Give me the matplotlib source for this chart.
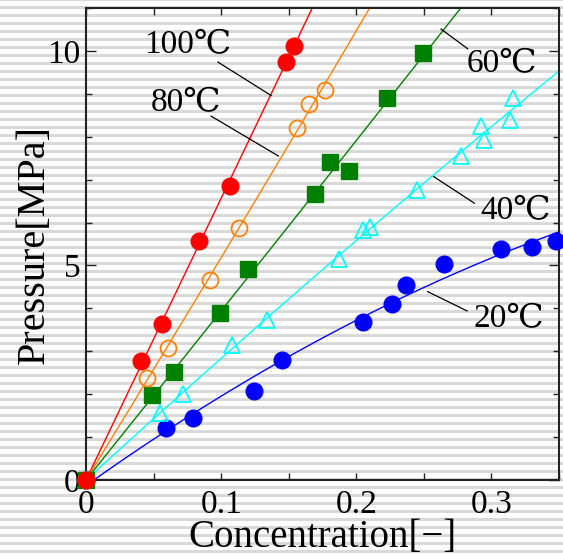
import numpy as np
import matplotlib
matplotlib.use("Agg")
import matplotlib.pyplot as plt
from matplotlib.patches import Rectangle
from matplotlib.ticker import MultipleLocator

plt.rcParams['font.family'] = ['Liberation Serif', 'DejaVu Serif']

# data: concentration [-] vs pressure [MPa]
x100 = [0.0, 0.0407, 0.0561, 0.0839, 0.1067, 0.1479, 0.1536]
y100 = [0.0, 2.78, 3.64, 5.58, 6.86, 9.73, 10.12]

x80 = [0.0, 0.0450, 0.0605, 0.0916, 0.1131, 0.1565, 0.1652, 0.1770]
y80 = [0.0, 2.38, 3.07, 4.67, 5.88, 8.21, 8.76, 9.09]

x60 = [0.0, 0.0491, 0.0654, 0.0995, 0.1202, 0.1696, 0.1807, 0.1943, 0.2227, 0.2491]
y60 = [0.0, 1.97, 2.52, 3.89, 4.92, 6.66, 7.40, 7.19, 8.90, 9.95]

x40 = [0.0, 0.0548, 0.0721, 0.1084, 0.1339, 0.1869, 0.2050, 0.2104,
       0.2450, 0.2778, 0.2943, 0.2926, 0.3141, 0.3161]
y40 = [0.0, 1.57, 2.00, 3.15, 3.72, 5.15, 5.83, 5.90,
       6.76, 7.54, 7.93, 8.25, 8.38, 8.90]

x20 = [0.0, 0.0593, 0.0795, 0.1244, 0.1450, 0.2050, 0.2264, 0.2368,
       0.2652, 0.3074, 0.3301, 0.3481]
y20 = [0.0, 1.22, 1.44, 2.07, 2.80, 3.68, 4.11, 4.55, 5.03, 5.38, 5.42, 5.58]

labels = ['100\u2103', '80\u2103', '60\u2103', '40\u2103', '20\u2103']


def fit_origin(x, y):
    # quadratic fit forced through the origin
    x = np.asarray(x)
    A = np.column_stack([x, x ** 2])
    a, b = np.linalg.lstsq(A, np.asarray(y), rcond=None)[0]
    return lambda t: a * t + b * t ** 2


fig = plt.figure(figsize=(5.63, 5.56), dpi=100)
fig.patch.set_facecolor('white')

# horizontal striped background of the original image
H = 556.0
for yc in np.arange(7.3 - 8 * 1, H + 8, 8.0):
    fig.patches.append(Rectangle((0, 1 - (yc + 1.2) / H), 1, 2.4 / H,
                                 transform=fig.transFigure, color='#d9d9d9',
                                 lw=0, zorder=-10))

ax = fig.add_axes([86 / 563, 1 - 480 / H, (559 - 86) / 563, (480 - 8) / H])
ax.set_facecolor('none')

xs = np.linspace(0, 0.36, 300)

f = fit_origin(x100, y100)
ax.plot(xs, f(xs), color='red', lw=1.0)
f = fit_origin(x80, y80)
ax.plot(xs, f(xs), color='#ff8000', lw=1.0)
f = fit_origin(x60, y60)
ax.plot(xs, f(xs), color='green', lw=1.0)
f = fit_origin(x40, y40)
ax.plot(xs, f(xs), color='cyan', lw=1.0)
c = np.polyfit(x20, y20, 2)
ax.plot(xs, np.polyval(c, xs), color='blue', lw=1.0)

ax.plot(x20, y20, 'o', color='blue', ms=12, zorder=3, clip_on=False)
ax.plot(x40, y40, '^', mfc='none', mec='cyan', mew=1.3, ms=12, zorder=3,
        clip_on=False)
ax.plot(x60, y60, 's', color='green', ms=11.5, zorder=3, clip_on=False)
ax.plot(x80, y80, 'o', mfc='none', mec='#ff8000', mew=1.3, ms=11.5, zorder=3,
        clip_on=False)
ax.plot(x100, y100, 'o', color='red', ms=12, zorder=4, clip_on=False)

# labels with leader lines (text centre, line start, line end)
label_pos = [
    ((0.0756, 10.14), (0.0976, 9.74), (0.137, 8.96)),
    ((0.0741, 8.79), (0.0926, 8.48), (0.1424, 7.55)),
    ((0.3081, 9.70), (0.2627, 10.51), (0.2824, 10.05)),
    ((0.3178, 6.27), (0.2573, 7.07), (0.2874, 6.45)),
    ((0.3126, 3.75), (0.2528, 4.39), (0.2820, 3.94)),
]
for lab, (tp, p0, p1) in zip(labels, label_pos):
    ax.text(tp[0], tp[1], lab, fontsize=24, ha='center', va='center')
    ax.plot([p0[0], p1[0]], [p0[1], p1[1]], color='black', lw=0.9)

ax.set_xlim(0, 0.35)
ax.set_ylim(0, 11)
ax.xaxis.set_minor_locator(MultipleLocator(0.05))
ax.yaxis.set_minor_locator(MultipleLocator(1))
ax.set_xticks([0, 0.1, 0.2, 0.3])
ax.set_xticklabels(['0', '0.1', '0.2', '0.3'])
ax.set_yticks([0, 5, 10])
ax.set_yticklabels(['0', '5', '10'])
ax.tick_params(which='both', direction='in', top=True, right=True,
               labelsize=24, width=1.0, color='#222222', pad=4)
ax.tick_params(axis='x', which='both', length=5, pad=7)
ax.tick_params(axis='y', which='major', length=7)
ax.tick_params(axis='y', which='minor', length=4.5)
for s in ax.spines.values():
    s.set_linewidth(1.5)
    s.set_color('#222222')

ax.set_xlabel('Concentration[\u2212]', fontsize=28, labelpad=-1)
ax.set_ylabel('Pressure[MPa]', fontsize=29, labelpad=-4)

fig.savefig('out.png', dpi=100)
